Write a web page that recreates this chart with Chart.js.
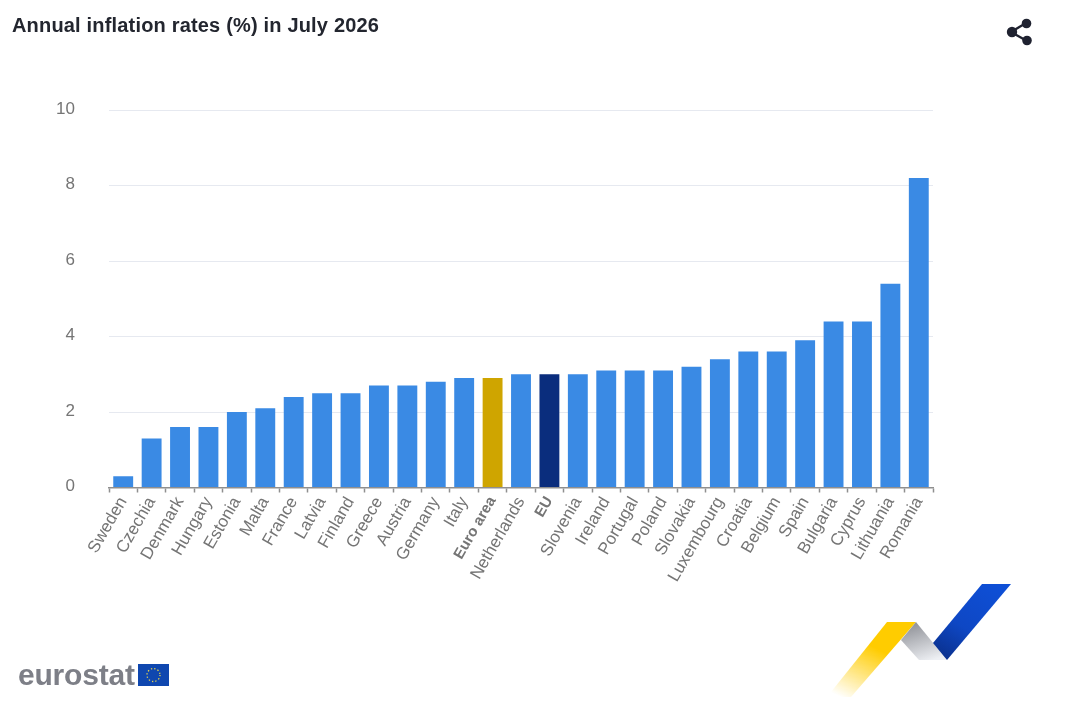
<!DOCTYPE html>
<html><head><meta charset="utf-8">
<script src="https://cdn.jsdelivr.net/npm/chart.js@4"></script>
<style>
html,body{margin:0;padding:0;background:#fff;width:1077px;height:722px;overflow:hidden;font-family:"Liberation Sans",Arial,sans-serif}
#wrap{position:relative;width:1077px;height:722px}
canvas{position:absolute;left:0;top:0}
#title{position:absolute;left:12px;top:15px;font-size:20px;font-weight:bold;color:#23262f;line-height:21px;white-space:nowrap;letter-spacing:.18px}
#brand{position:absolute;left:18px;top:657px;font-size:30px;font-weight:bold;color:#7d7f87;line-height:36px;letter-spacing:-.2px}
svg{position:absolute}
</style></head><body>
<div id="wrap">
<canvas id="c" width="1077" height="722"></canvas>
<div id="title">Annual inflation rates (%) in July 2026</div>
<svg style="left:1000px;top:12px" width="40" height="40" viewBox="0 0 40 40">
<path d="M11 20L26 11M11 20L27 29" stroke="#1f2230" stroke-width="2.4" fill="none"/>
<circle cx="12" cy="20" r="5.2" fill="#1f2230"/><circle cx="26.500" cy="11.500" r="4.800" fill="#1f2230"/><circle cx="27" cy="28.500" r="4.800" fill="#1f2230"/></svg>
<div id="brand">eurostat</div>
<svg style="left:138px;top:664px" width="31" height="22" viewBox="0 0 31 22"><rect width="31" height="22" fill="#0f47af"/>
<circle cx="15.500" cy="11" r="6.500" fill="none" stroke="#e8d44d" stroke-width="1.300" stroke-dasharray="1.300 2.100"/></svg>
<svg style="left:820px;top:575px" width="200" height="130" viewBox="0 0 200 130">
<defs>
<linearGradient id="y" x1="0.150" y1="1" x2="0.550" y2="0.350"><stop offset="0" stop-color="#ffcc00" stop-opacity="0"/><stop offset="1" stop-color="#ffcc00"/></linearGradient>
<linearGradient id="g" x1="0.300" y1="0" x2="0.700" y2="1"><stop offset="0" stop-color="#8f9197"/><stop offset="1" stop-color="#eef0f4"/></linearGradient>
<linearGradient id="b" x1="0.800" y1="0" x2="0.200" y2="1"><stop offset="0" stop-color="#0e4fd6"/><stop offset="0.600" stop-color="#0e47c4"/><stop offset="1" stop-color="#0a318f"/></linearGradient>
</defs>
<polygon points="7,122 67,47 96,47 31,122" fill="url(#y)"/>
<polygon points="96,47 81,65 99,85 127,85" fill="url(#g)"/>
<polygon points="162,9 191,9 127,85 113,68" fill="url(#b)"/>
</svg>
</div>
<script>
const categories=["Sweden","Czechia","Denmark","Hungary","Estonia","Malta","France","Latvia","Finland","Greece","Austria","Germany","Italy","Euro area","Netherlands","EU","Slovenia","Ireland","Portugal","Poland","Slovakia","Luxembourg","Croatia","Belgium","Spain","Bulgaria","Cyprus","Lithuania","Romania"];
const inflation=[0.3,1.3,1.6,1.6,2.0,2.1,2.4,2.5,2.5,2.7,2.7,2.8,2.9,2.9,3.0,3.0,3.0,3.1,3.1,3.1,3.2,3.4,3.6,3.6,3.9,4.4,4.4,5.4,8.2];
const yTicks=[0,2,4,6,8,10];
const barColour="#3a8ae4", euroAreaColour="#cfa500", euColour="#0a2d7d";
const colours=categories.map(n=>n==="Euro area"?euroAreaColour:n==="EU"?euColour:barColour);
new Chart(document.getElementById("c"),{
 type:"bar",
 data:{labels:categories,datasets:[{label:"Annual inflation rate (%)",data:inflation,backgroundColor:colours,categoryPercentage:1,barPercentage:0.7}]},
 options:{
  responsive:false,animation:false,devicePixelRatio:1,
  layout:{padding:{left:0,right:144,top:110,bottom:0}},
  plugins:{legend:{display:false},title:{display:false},tooltip:{enabled:false}},
  scales:{
   x:{
    afterFit(s){s.height=234.5},
    border:{display:true,color:"#8f8f8f",width:1.5},
    grid:{display:true,drawOnChartArea:false,drawTicks:true,tickLength:5,tickColor:"#8f8f8f",tickWidth:1.5},
    ticks:{autoSkip:false,maxRotation:60,minRotation:60,color:"#757575",padding:1,
      font:c=>{const b=["Euro area","EU"].includes(categories[c.index]);return {family:'"Liberation Sans",Arial,sans-serif',size:b?15:17,weight:b?"bold":"normal"}}}
   },
   y:{
    min:0,max:10,
    afterFit(s){s.width=109},
    afterBuildTicks(s){s.ticks=yTicks.map(v=>({value:v}))},
    border:{display:false},
    grid:{color:"#e6e9f0",lineWidth:1,drawTicks:false},
    ticks:{color:"#757575",padding:34,labelOffset:-1,font:{family:'"Liberation Sans",Arial,sans-serif',size:17}}
   }
  }
 }
});
</script>
</body></html>
